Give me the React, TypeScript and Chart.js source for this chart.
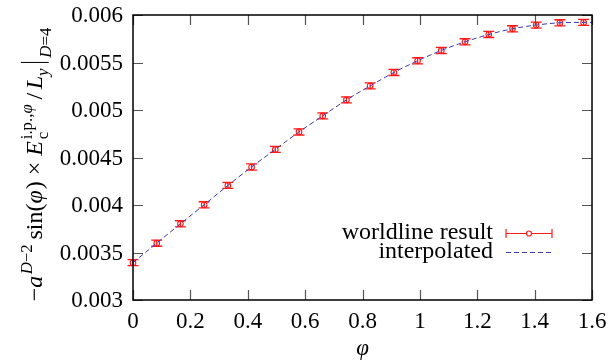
import { useEffect, useRef } from 'react';
import { Chart, registerables } from 'chart.js';

Chart.register(...registerables);

// Worldline data on the grid φ = k·π/38, k = 0..19
const phiValues = [0, 0.0827, 0.1653, 0.248, 0.3307, 0.4134, 0.496, 0.5787, 0.6614, 0.744, 0.8267, 0.9094, 0.9921, 1.0747, 1.1574, 1.2401, 1.3228, 1.4054, 1.4881, 1.5708];
const worldlineValues = [0.003393, 0.003598, 0.003802, 0.004002, 0.004206, 0.0044, 0.004585, 0.004769, 0.004938, 0.005106, 0.005254, 0.005395, 0.005518, 0.005627, 0.005718, 0.005795, 0.005855, 0.005894, 0.005918, 0.005922];
const worldlineErrors = [0.000032, 0.000032, 0.000032, 0.000032, 0.000032, 0.000032, 0.000032, 0.000032, 0.000032, 0.000032, 0.000032, 0.000032, 0.000032, 0.000032, 0.000032, 0.000032, 0.000032, 0.000032, 0.000032, 0.000032];

// Interpolating curve, drawn out to the right edge of the frame
const interpolatedPhi = [0, 0.0827, 0.1653, 0.248, 0.3307, 0.4134, 0.496, 0.5787, 0.6614, 0.744, 0.8267, 0.9094, 0.9921, 1.0747, 1.1574, 1.2401, 1.3228, 1.4054, 1.4881, 1.5708, 1.6];
const interpolatedValues = [0.003393, 0.003598, 0.003802, 0.004002, 0.004206, 0.0044, 0.004585, 0.004769, 0.004938, 0.005106, 0.005254, 0.005395, 0.005518, 0.005627, 0.005718, 0.005795, 0.005855, 0.005894, 0.005918, 0.005922, 0.005922];

const xTickLabels = ['0', '0.2', '0.4', '0.6', '0.8', '1', '1.2', '1.4', '1.6'];
const yTickLabels = ['0.003', '0.0035', '0.004', '0.0045', '0.005', '0.0055', '0.006'];
const seriesNames = ['worldline result', 'interpolated'];
const xAxisTitle = 'φ';

const SERIF = '"Liberation Serif", "Times New Roman", serif';
const RED = '#ff1a1a';
const BLUE = '#3a3ab0';
const TICK_FONT = 23;
const LEGEND_FONT = 24;

type Piece = { t: string; it?: boolean };
type Item =
  | { kind: 'text'; t: string; it?: boolean; pad?: number }
  | { kind: 'script'; sup: Piece[]; sub: Piece[]; subDy?: number; pad?: number }
  | { kind: 'bar' };

// −a^{D−2} sin(φ) × E_c^{i.p.,φ} / L_y |_{D=4}
const yTitleItems: Item[] = [
  { kind: 'text', t: '−' },
  { kind: 'text', t: 'a', it: true, pad: 0.06 },
  { kind: 'script', sup: [{ t: 'D', it: true }, { t: '−2' }], sub: [], pad: 0.2 },
  { kind: 'text', t: 'sin(' },
  { kind: 'text', t: 'φ', it: true, pad: 0.04 },
  { kind: 'text', t: ')', pad: 0.25 },
  { kind: 'text', t: '×', pad: 0.25 },
  { kind: 'text', t: 'E', it: true, pad: 0.08 },
  { kind: 'script', sup: [{ t: 'i.p.,' }, { t: 'φ', it: true }], sub: [{ t: 'c' }], pad: 0.2 },
  { kind: 'text', t: '/', pad: 0.15 },
  { kind: 'text', t: 'L', it: true },
  { kind: 'script', sup: [], sub: [{ t: 'y', it: true }], pad: 0.1 },
  { kind: 'bar' },
  { kind: 'script', sup: [], sub: [{ t: 'D', it: true }, { t: '=4' }], subDy: -0.38 },
];

function font(size: number, it?: boolean) {
  return `${it ? 'italic ' : ''}${size}px ${SERIF}`;
}

function piecesWidth(ctx: CanvasRenderingContext2D, pieces: Piece[], size: number) {
  let w = 0;
  for (const p of pieces) {
    ctx.font = font(size, p.it);
    w += ctx.measureText(p.t).width;
  }
  return w;
}

function itemWidth(ctx: CanvasRenderingContext2D, item: Item, S: number) {
  if (item.kind === 'text') {
    ctx.font = font(S, item.it);
    return ctx.measureText(item.t).width + (item.pad ?? 0) * S;
  }
  if (item.kind === 'script') {
    const s = S * 0.7;
    return Math.max(piecesWidth(ctx, item.sup, s), piecesWidth(ctx, item.sub, s)) + (item.pad ?? 0) * S;
  }
  return 0.35 * S;
}

function drawPieces(ctx: CanvasRenderingContext2D, pieces: Piece[], size: number, x: number, y: number) {
  let cx = x;
  for (const p of pieces) {
    ctx.font = font(size, p.it);
    ctx.fillText(p.t, cx, y);
    cx += ctx.measureText(p.t).width;
  }
}

function drawYTitle(ctx: CanvasRenderingContext2D, baseX: number, centerY: number, S: number) {
  const total = yTitleItems.reduce((acc, it) => acc + itemWidth(ctx, it, S), 0);
  ctx.save();
  ctx.translate(baseX, centerY);
  ctx.rotate(-Math.PI / 2);
  ctx.fillStyle = '#000';
  ctx.strokeStyle = '#000';
  ctx.textAlign = 'left';
  ctx.textBaseline = 'alphabetic';
  let x = -total / 2;
  for (const item of yTitleItems) {
    if (item.kind === 'text') {
      ctx.font = font(S, item.it);
      ctx.fillText(item.t, x, 0);
    } else if (item.kind === 'script') {
      const s = S * 0.7;
      drawPieces(ctx, item.sup, s, x, -0.42 * S);
      drawPieces(ctx, item.sub, s, x, -(item.subDy ?? -0.25) * S);
    } else {
      ctx.lineWidth = 1;
      ctx.beginPath();
      ctx.moveTo(x + 0.15 * S, 0.28 * S);
      ctx.lineTo(x + 0.15 * S, -0.88 * S);
      ctx.stroke();
    }
    x += itemWidth(ctx, item, S);
  }
  ctx.restore();
}

const overlayPlugin = {
  id: 'overlay',
  beforeDatasetsDraw(chart: any) {
    const ctx: CanvasRenderingContext2D = chart.ctx;
    const xs = chart.scales.x;
    const ys = chart.scales.y;
    ctx.save();
    ctx.strokeStyle = RED;
    ctx.lineWidth = 1.3;
    phiValues.forEach((p, i) => {
      const px = xs.getPixelForValue(p);
      const top = ys.getPixelForValue(worldlineValues[i] + worldlineErrors[i]);
      const bot = ys.getPixelForValue(worldlineValues[i] - worldlineErrors[i]);
      ctx.beginPath();
      ctx.moveTo(px, top);
      ctx.lineTo(px, bot);
      ctx.moveTo(px - 5.5, top);
      ctx.lineTo(px + 5.5, top);
      ctx.moveTo(px - 5.5, bot);
      ctx.lineTo(px + 5.5, bot);
      ctx.stroke();
    });
    ctx.restore();
  },
  afterDraw(chart: any) {
    const ctx: CanvasRenderingContext2D = chart.ctx;
    const { left, right, top, bottom } = chart.chartArea;
    const xs = chart.scales.x;
    const ys = chart.scales.y;
    ctx.save();

    // inward tick marks on all four sides
    ctx.strokeStyle = '#555';
    ctx.lineWidth = 1.2;
    const tl = 10;
    ctx.beginPath();
    xTickLabels.forEach((lab) => {
      const px = Math.round(xs.getPixelForValue(Number(lab))) + 0.5;
      ctx.moveTo(px, bottom);
      ctx.lineTo(px, bottom - tl);
      ctx.moveTo(px, top);
      ctx.lineTo(px, top + tl);
    });
    yTickLabels.forEach((lab) => {
      const py = Math.round(ys.getPixelForValue(Number(lab))) + 0.5;
      ctx.moveTo(left, py);
      ctx.lineTo(left + tl, py);
      ctx.moveTo(right, py);
      ctx.lineTo(right - tl, py);
    });
    ctx.stroke();

    // frame
    ctx.strokeStyle = '#000';
    ctx.lineWidth = 1.5;
    ctx.strokeRect(left, top, right - left, bottom - top);

    // tick labels
    ctx.fillStyle = '#000';
    ctx.font = font(TICK_FONT);
    ctx.textAlign = 'center';
    ctx.textBaseline = 'alphabetic';
    xTickLabels.forEach((lab) => {
      ctx.fillText(lab, xs.getPixelForValue(Number(lab)), bottom + 28);
    });
    ctx.textAlign = 'right';
    ctx.textBaseline = 'middle';
    yTickLabels.forEach((lab) => {
      ctx.fillText(lab, left - 10, ys.getPixelForValue(Number(lab)) + 1);
    });

    // axis titles
    ctx.font = font(TICK_FONT, true);
    ctx.textAlign = 'center';
    ctx.textBaseline = 'middle';
    ctx.fillText(xAxisTitle, (left + right) / 2, 349);
    drawYTitle(ctx, 42, (top + bottom) / 2 + 7, 24);

    // legend
    const lx0 = 506;
    const lx1 = 552;
    const ly0 = 233;
    const ly1 = 252;
    ctx.font = font(LEGEND_FONT);
    ctx.fillStyle = '#000';
    ctx.textAlign = 'right';
    ctx.textBaseline = 'middle';
    ctx.fillText(seriesNames[0], 493, ly0);
    ctx.fillText(seriesNames[1], 493, ly1);
    ctx.strokeStyle = RED;
    ctx.lineWidth = 1.2;
    ctx.beginPath();
    ctx.moveTo(lx0, ly0 + 0.5);
    ctx.lineTo(lx1, ly0 + 0.5);
    ctx.moveTo(lx0, ly0 - 4);
    ctx.lineTo(lx0, ly0 + 5);
    ctx.moveTo(lx1, ly0 - 4);
    ctx.lineTo(lx1, ly0 + 5);
    ctx.stroke();
    ctx.fillStyle = '#fff';
    ctx.beginPath();
    ctx.arc((lx0 + lx1) / 2, ly0 + 0.5, 2.5, 0, Math.PI * 2);
    ctx.fill();
    ctx.stroke();
    ctx.strokeStyle = BLUE;
    ctx.lineWidth = 1;
    ctx.setLineDash([5, 3]);
    ctx.beginPath();
    ctx.moveTo(lx0, ly1 + 0.5);
    ctx.lineTo(lx1 + 1, ly1 + 0.5);
    ctx.stroke();
    ctx.restore();
  },
};

export default function App() {
  const canvasRef = useRef<HTMLCanvasElement | null>(null);

  useEffect(() => {
    const canvas = canvasRef.current;
    if (!canvas) return;
    const chart = new Chart(canvas, {
      type: 'scatter',
      data: {
        datasets: [
          {
            label: seriesNames[1],
            data: interpolatedPhi.map((x, i) => ({ x, y: interpolatedValues[i] })),
            showLine: true,
            borderColor: BLUE,
            borderWidth: 1,
            borderDash: [5, 3],
            pointRadius: 0,
            cubicInterpolationMode: 'monotone',
            clip: false,
          },
          {
            label: seriesNames[0],
            data: phiValues.map((x, i) => ({ x, y: worldlineValues[i] })),
            showLine: false,
            pointStyle: 'circle',
            pointRadius: 2.8,
            pointBorderWidth: 1.1,
            pointBorderColor: RED,
            pointBackgroundColor: 'rgba(255,255,255,0)',
            clip: false,
          },
        ],
      } as any,
      options: {
        animation: false,
        responsive: false,
        maintainAspectRatio: false,
        layout: { padding: { left: 0, right: 19, top: 15, bottom: 0 } },
        plugins: { legend: { display: false }, tooltip: { enabled: false } },
        events: [],
        scales: {
          x: {
            type: 'linear',
            min: 0,
            max: 1.6,
            grid: { display: false, drawTicks: false },
            border: { display: false },
            ticks: { display: false, stepSize: 0.2 },
            afterFit: (s: any) => {
              s.height = 60;
            },
          },
          y: {
            type: 'linear',
            min: 0.003,
            max: 0.006,
            grid: { display: false, drawTicks: false },
            border: { display: false },
            ticks: { display: false, stepSize: 0.0005 },
            afterFit: (s: any) => {
              s.width = 133;
            },
          },
        },
      } as any,
      plugins: [overlayPlugin],
    });
    return () => chart.destroy();
  }, []);

  return (
    <div style={{ position: 'fixed', left: 0, top: 0, width: 611, height: 360, background: '#fff' }}>
      <canvas ref={canvasRef} width={611} height={360} />
    </div>
  );
}
